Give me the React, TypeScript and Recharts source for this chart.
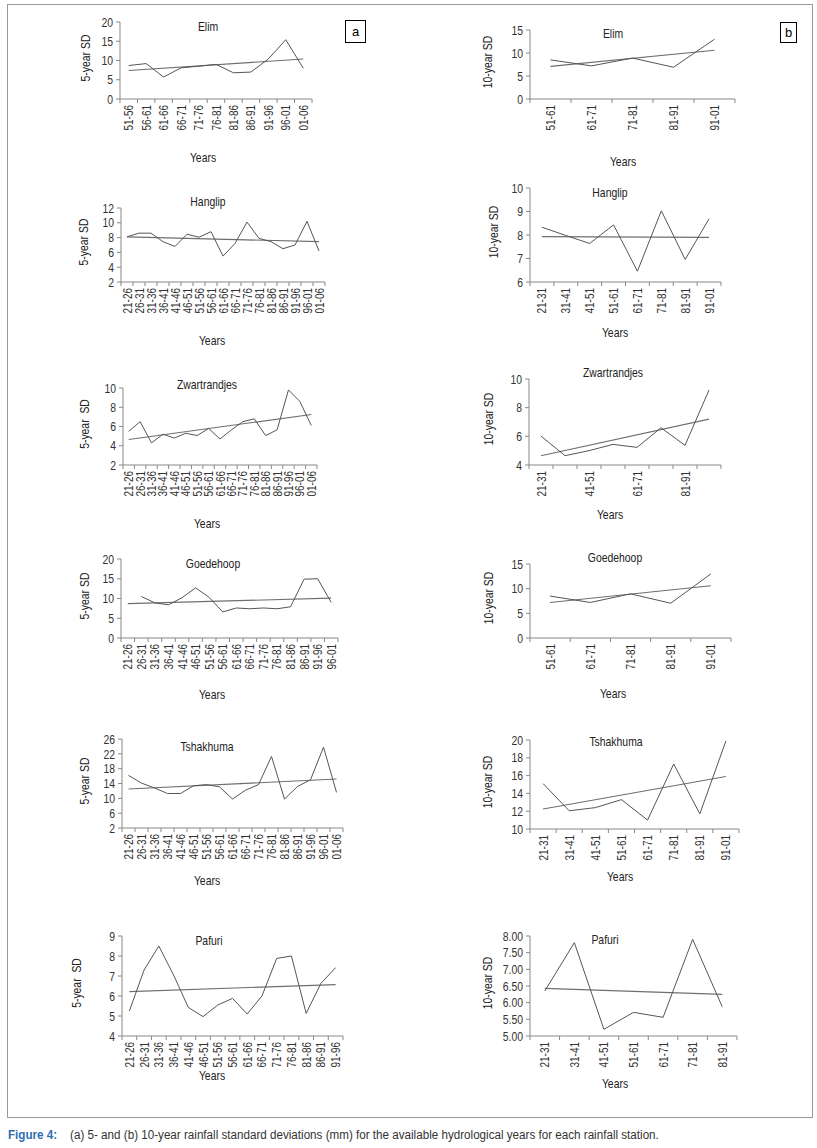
import React from 'react';
import { LineChart, Line, XAxis, YAxis } from 'recharts';

const FONT = "'Liberation Sans', Arial, sans-serif";
const SQ = 0.8; // horizontal squeeze to mimic the narrow face of the original

// ---- 5-year SD (column a) ----
const elim5Cats = ['51-56', '56-61', '61-66', '66-71', '71-76', '76-81', '81-86', '86-91', '91-96', '96-01', '01-06'];
const elim5Values = [8.7, 9.2, 5.7, 8.1, 8.5, 9.0, 6.8, 7.0, 10.4, 15.4, 8.0];
const elim5Trend = [7.4, 10.4];

const cats5Long = ['21-26', '26-31', '31-36', '36-41', '41-46', '46-51', '51-56', '56-61', '61-66', '66-71', '71-76', '76-81', '81-86', '86-91', '91-96', '96-01', '01-06'];

const hanglip5Values = [8.1, 8.6, 8.6, 7.45, 6.8, 8.45, 8.05, 8.8, 5.5, 7.2, 10.1, 7.9, 7.45, 6.5, 7.0, 10.2, 6.2];
const hanglip5Trend = [8.1, 7.45];

const zwart5Values = [5.5, 6.5, 4.3, 5.2, 4.8, 5.3, 5.06, 5.8, 4.7, 5.65, 6.5, 6.8, 5.06, 5.65, 9.8, 8.6, 6.1];
const zwart5Trend = [4.65, 7.25];

const goede5Cats = ['21-26', '26-31', '31-36', '36-41', '41-46', '46-51', '51-56', '56-61', '61-66', '66-71', '71-76', '76-81', '81-86', '86-91', '91-96', '96-01'];
const goede5Values = [null, 10.5, 8.9, 8.4, 10.2, 12.7, 10.3, 6.6, 7.6, 7.4, 7.6, 7.4, 7.9, 14.9, 15.0, 9.0];
const goede5Trend = [8.7, 10.1];

const tshak5Values = [16.2, 14.1, 12.8, 11.3, 11.3, 13.4, 13.7, 13.1, 9.8, 12.2, 13.7, 21.3, 9.8, 13.2, 15.0, 23.8, 11.6];
const tshak5Trend = [12.5, 15.2];

const pafuri5Cats = ['21-26', '26-31', '31-36', '36-41', '41-46', '46-51', '51-56', '56-61', '61-66', '66-71', '71-76', '76-81', '81-86', '86-91', '91-96'];
const pafuri5Values = [5.25, 7.3, 8.5, 7.05, 5.43, 4.97, 5.55, 5.88, 5.1, 6.0, 7.88, 8.0, 5.13, 6.63, 7.42];
const pafuri5Trend = [6.22, 6.57];

// ---- 10-year SD (column b) ----
const cats10Short = ['51-61', '61-71', '71-81', '81-91', '91-01'];
const elim10Values = [8.5, 7.2, 8.9, 6.9, 13.0];
const elim10Trend = [7.1, 10.6];

const cats10Long = ['21-31', '31-41', '41-51', '51-61', '61-71', '71-81', '81-91', '91-01'];
const hanglip10Values = [8.33, 7.98, 7.64, 8.43, 6.46, 9.03, 6.96, 8.69];
const hanglip10Trend = [7.93, 7.9];

const zwart10Values = [6.02, 4.65, 5.0, 5.44, 5.23, 6.6, 5.37, 9.23];
const zwart10Trend = [4.65, 7.2];

const goede10Values = [8.5, 7.2, 8.95, 7.05, 13.0];
const goede10Trend = [7.2, 10.6];

const tshak10Values = [15.1, 12.05, 12.4, 13.3, 11.0, 17.3, 11.7, 19.9];
const tshak10Trend = [12.25, 15.9];

const pafuri10Cats = ['21-31', '31-41', '41-51', '51-61', '61-71', '71-81', '81-91'];
const pafuri10Values = [6.35, 7.8, 5.2, 5.71, 5.56, 7.9, 5.88];
const pafuri10Trend = [6.43, 6.25];

type PanelProps = {
  cats: string[];
  values: (number | null)[];
  trend: number[];
  domain: [number, number];
  ticks: number[];
  x0: number;
  x1: number;
  yTop: number;
  yBot: number;
  title: string;
  titlePos: [number, number];
  yearsPos: [number, number];
  yLabel: string;
  yLabelX: number;
  labelEvery?: number;
  decimals?: number;
};

const YW = 40;
const XH = 45;
const MT = 10;
const MR = 10;

const txt = (extra: React.CSSProperties): React.CSSProperties => ({
  position: 'absolute',
  fontSize: 13,
  color: '#222',
  whiteSpace: 'pre',
  ...extra,
});

function Panel(p: PanelProps) {
  const n = p.cats.length;
  const plotW = p.x1 - p.x0;
  const plotH = p.yBot - p.yTop;
  const bw = plotW / n;
  const rows = p.cats.map((c, i) => ({
    cat: c,
    sd: p.values[i],
    trend: i === 0 ? p.trend[0] : i === n - 1 ? p.trend[1] : null,
  }));
  const every = p.labelEvery || 1;

  const XTick = (props: any) => {
    const { x, y, payload, index } = props;
    const showText = index % every === 0;
    return (
      <g>
        <line x1={x - bw / 2} y1={y} x2={x - bw / 2} y2={y + 4} stroke="#888" />
        {index === n - 1 && <line x1={x + bw / 2} y1={y} x2={x + bw / 2} y2={y + 4} stroke="#888" />}
        {showText && (
          <text
            transform={`translate(${x},${y + 6}) rotate(-90) scale(${SQ},1)`}
            textAnchor="end"
            dy="0.36em"
            fontSize={12.5}
            fill="#333"
            fontFamily={FONT}
          >
            {payload.value}
          </text>
        )}
      </g>
    );
  };

  const YTick = (props: any) => {
    const { x, y, payload } = props;
    const v = payload.value as number;
    return (
      <text
        transform={`translate(${x},${y}) scale(${SQ},1)`}
        textAnchor="end"
        dy="0.36em"
        fontSize={13}
        fill="#333"
        fontFamily={FONT}
      >
        {p.decimals ? v.toFixed(p.decimals) : String(v)}
      </text>
    );
  };

  return (
    <>
      <div style={{ position: 'absolute', left: p.x0 - YW, top: p.yTop - MT }}>
        <LineChart
          width={plotW + YW + MR}
          height={plotH + MT + XH}
          data={rows}
          margin={{ top: MT, right: MR, left: 0, bottom: 0 }}
        >
          <XAxis
            dataKey="cat"
            interval={0}
            height={XH}
            padding={{ left: bw / 2, right: bw / 2 }}
            stroke="#888"
            tickLine={false}
            tickSize={0}
            tickMargin={0}
            tick={<XTick />}
          />
          <YAxis
            width={YW}
            domain={p.domain}
            ticks={p.ticks}
            interval={0}
            stroke="#888"
            tickSize={4}
            tickMargin={3}
            tick={<YTick />}
            allowDataOverflow
          />
          <Line dataKey="trend" stroke="#6e6e6e" strokeWidth={1.1} dot={false} connectNulls isAnimationActive={false} />
          <Line dataKey="sd" stroke="#555" strokeWidth={1} dot={false} isAnimationActive={false} />
        </LineChart>
      </div>
      <div style={txt({ left: p.titlePos[0], top: p.titlePos[1], transform: `translate(-50%,-50%) scaleX(${SQ})` })}>
        {p.title}
      </div>
      <div style={txt({ left: p.yearsPos[0], top: p.yearsPos[1], transform: `translate(-50%,-50%) scaleX(${SQ})` })}>
        Years
      </div>
      <div
        style={txt({
          left: p.yLabelX,
          top: (p.yTop + p.yBot) / 2 - 3,
          transform: `translate(-50%,-50%) rotate(-90deg) scaleX(${SQ})`,
        })}
      >
        {p.yLabel}
      </div>
    </>
  );
}

export default function App() {
  return (
    <div style={{ position: 'absolute', left: 0, top: 0, width: 817, height: 1148, background: '#fff', fontFamily: FONT }}>
      <div style={{ position: 'absolute', left: 7, top: 4, width: 804, height: 1112, border: '1px solid #999' }} />

      <div style={{ position: 'absolute', left: 345, top: 20, width: 19, height: 21, border: '1px solid #000', fontSize: 13, textAlign: 'center', lineHeight: '21px' }}>a</div>
      <div style={{ position: 'absolute', left: 780, top: 22, width: 15, height: 19, border: '1px solid #000', fontSize: 13, textAlign: 'center', lineHeight: '19px' }}>b</div>

      <Panel cats={elim5Cats} values={elim5Values} trend={elim5Trend} domain={[0, 20]} ticks={[0, 5, 10, 15, 20]}
        x0={120} x1={312} yTop={22} yBot={99} title="Elim" titlePos={[208, 26]} yearsPos={[203, 157]} yLabel="5-year SD" yLabelX={85} />
      <Panel cats={cats5Long} values={hanglip5Values} trend={hanglip5Trend} domain={[2, 12]} ticks={[2, 4, 6, 8, 10, 12]}
        x0={121} x1={325} yTop={208} yBot={282} title="Hanglip" titlePos={[208, 201]} yearsPos={[212, 340]} yLabel="5-year SD" yLabelX={83} />
      <Panel cats={cats5Long} values={zwart5Values} trend={zwart5Trend} domain={[2, 10]} ticks={[2, 4, 6, 8, 10]}
        x0={123} x1={317} yTop={388} yBot={465} title="Zwartrandjes" titlePos={[207, 384]} yearsPos={[207, 523]} yLabel="5-year  SD" yLabelX={84} />
      <Panel cats={goede5Cats} values={goede5Values} trend={goede5Trend} domain={[0, 20]} ticks={[0, 5, 10, 15, 20]}
        x0={121} x1={338} yTop={559} yBot={638} title="Goedehoop" titlePos={[213, 563]} yearsPos={[212, 694]} yLabel="5-year SD" yLabelX={84} />
      <Panel cats={cats5Long} values={tshak5Values} trend={tshak5Trend} domain={[2, 26]} ticks={[2, 6, 10, 14, 18, 22, 26]}
        x0={122} x1={343} yTop={739} yBot={828} title="Tshakhuma" titlePos={[207, 746]} yearsPos={[207, 880]} yLabel="5-year SD" yLabelX={84} />
      <Panel cats={pafuri5Cats} values={pafuri5Values} trend={pafuri5Trend} domain={[4, 9]} ticks={[4, 5, 6, 7, 8, 9]}
        x0={122} x1={343} yTop={936} yBot={1036} title="Pafuri" titlePos={[209, 940]} yearsPos={[212, 1075]} yLabel="5-year  SD" yLabelX={76} />

      <Panel cats={cats10Short} values={elim10Values} trend={elim10Trend} domain={[0, 15]} ticks={[0, 5, 10, 15]}
        x0={530} x1={735} yTop={30} yBot={99} title="Elim" titlePos={[613, 33]} yearsPos={[623, 161]} yLabel="10-year SD" yLabelX={487} />
      <Panel cats={cats10Long} values={hanglip10Values} trend={hanglip10Trend} domain={[6, 10]} ticks={[6, 7, 8, 9, 10]}
        x0={530} x1={721} yTop={188} yBot={282} title="Hanglip" titlePos={[610, 192]} yearsPos={[615, 332]} yLabel="10-year SD" yLabelX={493} />
      <Panel cats={cats10Long} values={zwart10Values} trend={zwart10Trend} domain={[4, 10]} ticks={[4, 6, 8, 10]}
        x0={529} x1={721} yTop={379} yBot={465} title="Zwartrandjes" titlePos={[613, 372]} yearsPos={[610, 514]} yLabel="10-year SD" yLabelX={488} labelEvery={2} />
      <Panel cats={cats10Short} values={goede10Values} trend={goede10Trend} domain={[0, 15]} ticks={[0, 5, 10, 15]}
        x0={530} x1={731} yTop={564} yBot={638} title="Goedehoop" titlePos={[615, 557]} yearsPos={[613, 693]} yLabel="10-year SD" yLabelX={488} />
      <Panel cats={cats10Long} values={tshak10Values} trend={tshak10Trend} domain={[10, 20]} ticks={[10, 12, 14, 16, 18, 20]}
        x0={530} x1={739} yTop={740} yBot={829} title="Tshakhuma" titlePos={[616, 741]} yearsPos={[620, 876]} yLabel="10-year SD" yLabelX={487} />
      <Panel cats={pafuri10Cats} values={pafuri10Values} trend={pafuri10Trend} domain={[5, 8]} ticks={[5, 5.5, 6, 6.5, 7, 7.5, 8]}
        x0={530} x1={737} yTop={936} yBot={1036} title="Pafuri" titlePos={[605, 939]} yearsPos={[615, 1083]} yLabel="10-year SD" yLabelX={487} decimals={2} />

      <div style={{ position: 'absolute', left: 8, top: 1128, fontSize: 12, color: '#333', whiteSpace: 'nowrap', transform: 'scaleX(0.97)', transformOrigin: 'left top' }}>
        <span style={{ color: '#2f6fb0', fontWeight: 'bold', display: 'inline-block', width: 64 }}>Figure 4:</span>
        (a) 5- and (b) 10-year rainfall standard deviations (mm) for the available hydrological years for each rainfall station.
      </div>
    </div>
  );
}
